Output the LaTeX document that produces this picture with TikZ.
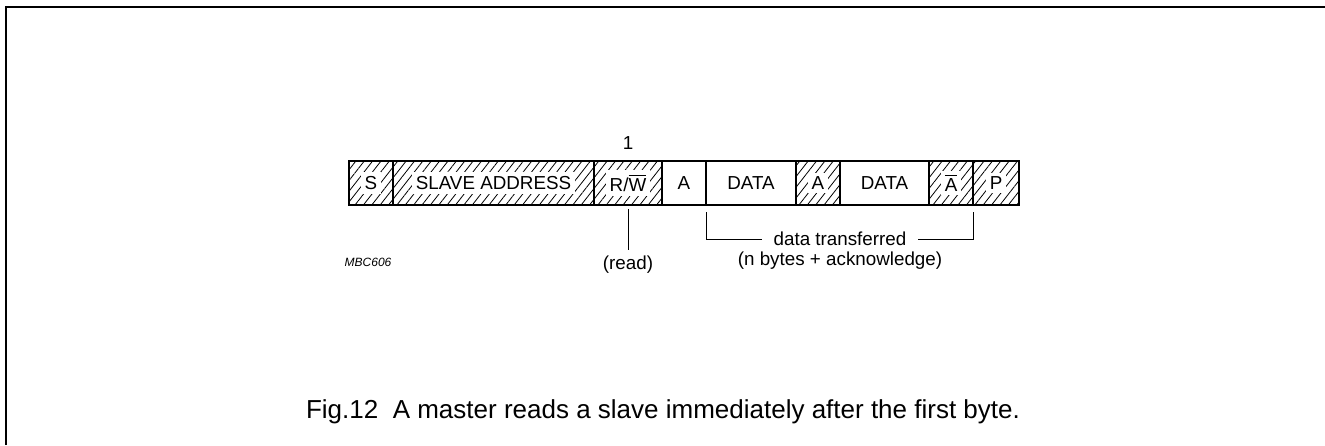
\documentclass[tikz,border=0pt]{standalone}
\usepackage{fontspec}
\setmainfont{Liberation Sans}
\usetikzlibrary{patterns.meta,positioning}

\newcommand{\whitebg}[1]{{\setlength{\fboxsep}{2pt}\colorbox{white}{#1}}}

\begin{document}
\begin{tikzpicture}[
  x = 0.5pt, y = -0.5pt,
  line width = 0.8pt,
  field/.style = {rectangle, draw, outer sep=0pt, inner sep=0pt,
                  minimum height=22.25pt, font=\fontsize{9.4}{11}\selectfont},
  hatched/.style = {field, pattern={Lines[angle=52,distance=3.3pt,line width=0.4pt]}},
  lbl/.style = {inner sep=1pt, font=\fontsize{9.4}{11}\selectfont}
]
\useasboundingbox (0,0) rectangle (1325,445);

% ───────── frame ─────────
\draw[line width=1pt] (5.5,445) |- (1325,6.5);

% ───────── message fields ─────────
\node[hatched, minimum width=22pt, anchor=west] (s) at (349,183) {\whitebg{S}};
\node[hatched, minimum width=100.5pt, right=0pt of s]    (addr)  {\whitebg{SLAVE ADDRESS}};
\node[hatched, minimum width=34pt,    right=0pt of addr] (rw)    {\whitebg{R/$\overline{\mbox{W}}$}};
\node[field,   minimum width=22pt,    right=0pt of rw]   (ack)   {A};
\node[field,   minimum width=45pt,    right=0pt of ack]  (data1) {DATA};
\node[hatched, minimum width=22pt,    right=0pt of data1] (ack1) {\whitebg{A}};
\node[field,   minimum width=44.5pt,  right=0pt of ack1] (data2) {DATA};
\node[hatched, minimum width=22pt,    right=0pt of data2] (nack) {\whitebg{$\overline{\mbox{A}}$}};
\node[hatched, minimum width=23pt,    right=0pt of nack] (p)     {\whitebg{P}};

% ───────── labels ─────────
\node[lbl, above=4pt of rw] (one) {1};
\node[lbl, below=22.5pt of rw, inner ysep=2.5pt] (read) {(read)};
\node[lbl, inner xsep=5.5pt] (xfer) at (840,239) {data transferred};
\node[lbl, below=0pt of xfer] (nbytes) {(n bytes + acknowledge)};
\node[lbl, font=\fontsize{6}{7}\selectfont\itshape] (tag) at (368,262) {MBC606};

% ───────── connectors ─────────
\draw[line width=0.5pt] ([yshift=-2pt]rw.south) -- (read);
\draw[line width=0.5pt] ([yshift=-3.5pt]data1.south west) |- (xfer.west);
\draw[line width=0.5pt] ([yshift=-3.5pt]nack.south east) |- (xfer.east);

% ───────── caption ─────────
\node[font=\fontsize{13}{15}\selectfont] (caption) at (663,412)
  {Fig.12\ \ A master reads a slave immediately after the first byte.};

\end{tikzpicture}
\end{document}
